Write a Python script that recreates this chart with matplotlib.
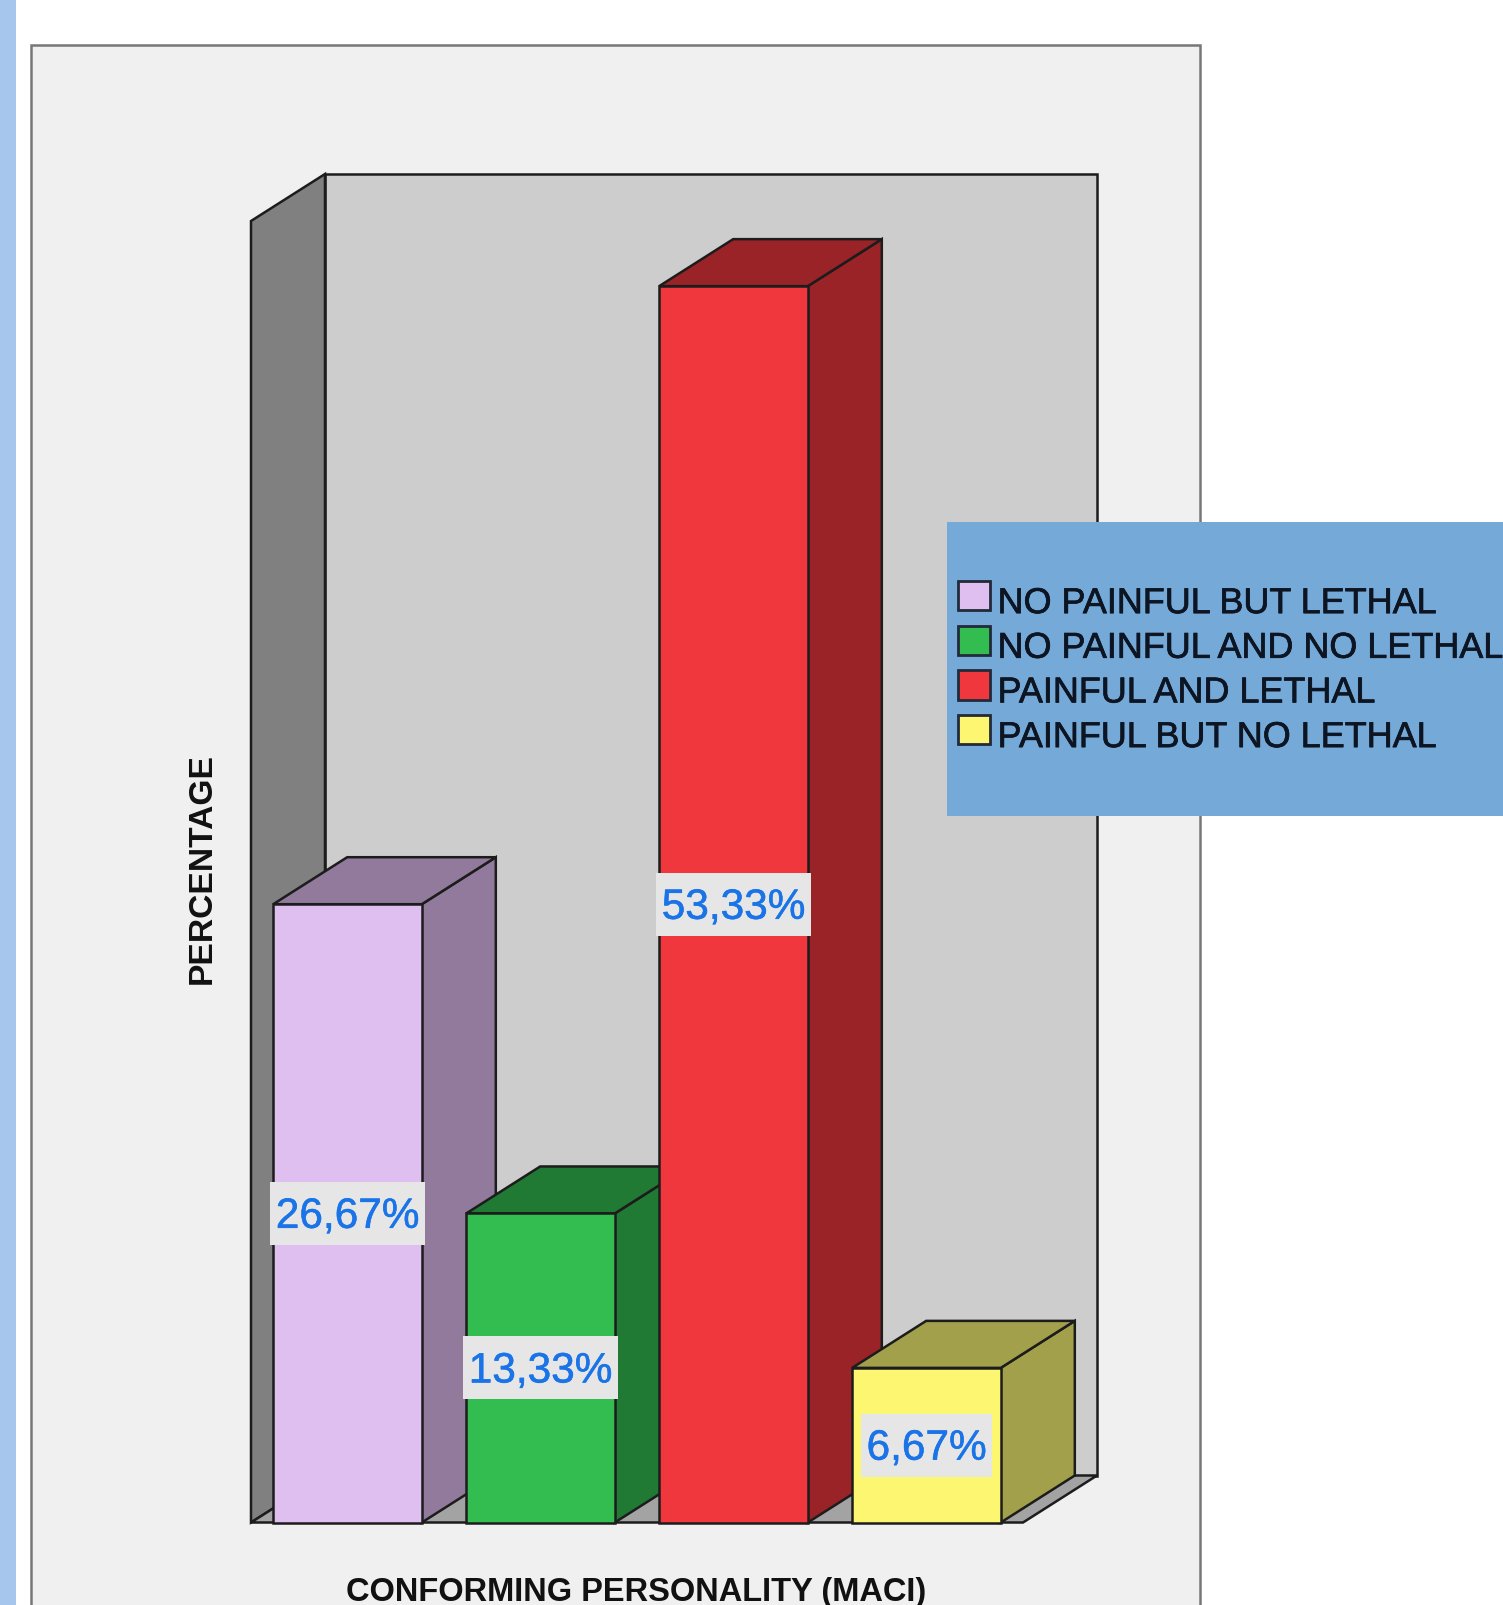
import matplotlib
matplotlib.use('Agg')
import matplotlib.pyplot as plt
import matplotlib.patheffects as pe
from matplotlib.patches import Polygon, Rectangle, Patch

categories = ['NO PAINFUL BUT LETHAL', 'NO PAINFUL AND NO LETHAL', 'PAINFUL AND LETHAL', 'PAINFUL BUT NO LETHAL']
values = [26.67, 13.33, 53.33, 6.67]
value_labels = ['26,67%', '13,33%', '53,33%', '6,67%']
front_colors = ['#dfbef0', '#33bc4f', '#f1373e', '#fdf670']
side_colors = ['#917a9b', '#207a33', '#9a2327', '#a3a04b']

W, H = 1503, 1605
EDGE = '#1c1c1c'
plt.rcParams['font.family'] = ['Liberation Sans', 'DejaVu Sans']

fig = plt.figure(figsize=(W / 100, H / 100), dpi=100, facecolor='white')


def px_rect(x0, y0, x1, y1, **kw):
    # pixel box, y measured from the top of the picture
    r = Rectangle((x0 / W, 1 - y1 / H), (x1 - x0) / W, (y1 - y0) / H,
                  transform=fig.transFigure, **kw)
    fig.add_artist(r)
    return r


# page furniture
px_rect(0, 0, 16, H, fc='#a6c6ed', ec='none', zorder=-2)
px_rect(31, 45, 1200, H + 20, fc='#f0f0f0', ec='#777777', lw=1.8, zorder=-1)

# axes = front plane of the 3D box
ax_l, ax_r, ax_t, ax_b = 251, 1023, 221, 1522.5
ax = fig.add_axes([ax_l / W, 1 - ax_b / H, (ax_r - ax_l) / W, (ax_b - ax_t) / H])
ax.set_xlim(-0.5, 3.5)
ax.set_ylim(0, 56.14)
ax.axis('off')
ax.set_zorder(5)

dx = 74 * 4 / (ax_r - ax_l)
dy = 47 * 56.14 / (ax_b - ax_t)
x0, x1 = ax.get_xlim()
y0, y1 = ax.get_ylim()


def face(pts, color, z=1):
    ax.add_patch(Polygon(pts, closed=True, fc=color, ec=EDGE, lw=1.8,
                         joinstyle='miter', clip_on=False, zorder=z))


# walls and floor
face([(x0 + dx, y0 + dy), (x1 + dx, y0 + dy), (x1 + dx, y1 + dy), (x0 + dx, y1 + dy)], '#cdcdcd')
face([(x0, y0), (x0 + dx, y0 + dy), (x0 + dx, y1 + dy), (x0, y1)], '#808080')
face([(x0, y0), (x1, y0), (x1 + dx, y0 + dy), (x0 + dx, y0 + dy)], '#a3a3a3')

# bars, left to right so that the later ones cover the earlier sides
bar_w = 0.77
for i, v in enumerate(values):
    l, r = i - bar_w / 2, i + bar_w / 2
    z = 2 + i
    face([(r, 0), (r + dx, dy), (r + dx, v + dy), (r, v)], side_colors[i], z)
    face([(l, v), (r, v), (r + dx, v + dy), (l + dx, v + dy)], side_colors[i], z)
    ax.bar(i, v, width=bar_w, color=front_colors[i], edgecolor=EDGE, linewidth=1.8, zorder=z, clip_on=False)

# value labels with their grey boxes
renderer = fig.canvas.get_renderer()
for i, v in enumerate(values):
    t = ax.annotate(value_labels[i], (i, v / 2), xytext=(0, -2.5), textcoords='offset points',
                    color='#1a74e8', fontsize=30.5, ha='center', va='center', zorder=11)
    t.set_path_effects([pe.withStroke(linewidth=0.4, foreground='#1a74e8')])
    ext = t.get_window_extent(renderer)
    bw = (ext.width + 12) * 4 / (ax_r - ax_l)
    bh = 63 * 56.14 / (ax_b - ax_t)
    ax.add_patch(Rectangle((i - bw / 2, v / 2 - bh / 2), bw, bh, fc='#e6e6e6', ec='none', zorder=10))

# axis titles
fig.text(202 / W, 1 - 869 / H, 'PERCENTAGE', rotation=90, fontsize=24.2, fontweight='bold',
         color='#111111', ha='center', va='center')
fig.text(636 / W, 1 - 1592 / H, 'CONFORMING PERSONALITY (MACI)', fontsize=23.5, fontweight='bold',
         color='#111111', ha='center', va='center')

# legend
px_rect(947, 522, W + 10, 816, fc='#74a9d8', ec='none', zorder=20)
handles = [Patch(fc=c, ec='#222a3a', lw=2) for c in front_colors]
leg = fig.legend(handles, categories, loc='upper left', bbox_to_anchor=(958 / W, 1 - 581 / H),
                 frameon=False, fontsize=25.9, borderpad=0, borderaxespad=0,
                 handlelength=0.9, handleheight=0.88, handletextpad=0.2, labelspacing=0.265)
leg.set_zorder(21)
for txt in leg.get_texts():
    txt.set_color('#0d1522')
    txt.set_position((0, -5))
    txt.set_path_effects([pe.withStroke(linewidth=0.5, foreground='#0d1522')])

plt.savefig('out.png', dpi=100, facecolor='white')
plt.close()
